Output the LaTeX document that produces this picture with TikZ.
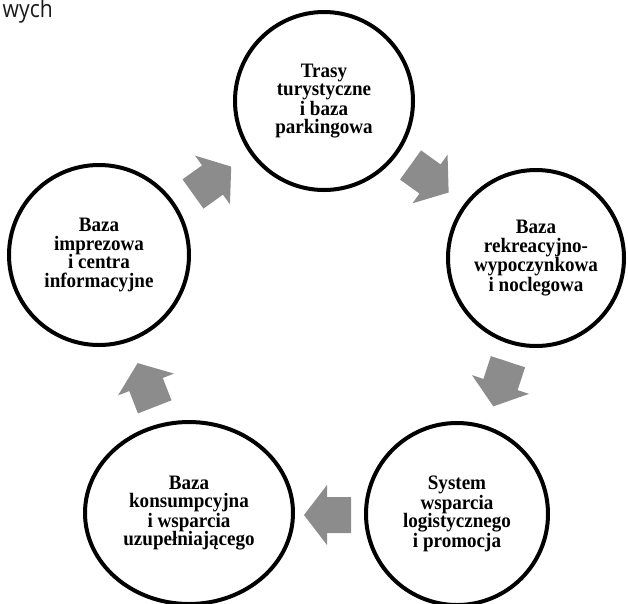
\documentclass[tikz,border=0pt]{standalone}
\usepackage{fontspec}
\setmainfont{Liberation Serif}
\newfontfamily\stagefont[FakeStretch=0.93]{Liberation Serif}
\newfontfamily\sansf[FakeStretch=0.88]{Open Sans}
\usetikzlibrary{shapes.geometric}
\definecolor{arrowgray}{RGB}{140,140,140}
\tikzset{
  stage/.style={draw=black, line width=4pt, inner sep=0pt, align=center,
    font=\stagefont\bfseries\fontsize{20.5}{18.6}\selectfont},
  roundstage/.style={stage, circle},
  ovalstage/.style={stage, ellipse},
  blockarrow/.pic={
    \fill[arrowgray] (-24,-18) -- (0,-18) -- (0,-30) -- (23,0) -- (0,30) -- (0,18) -- (-24,18) -- cycle;
  }
}
\begin{document}
\begin{tikzpicture}[x=1pt,y=-1pt]
\useasboundingbox (0,0) rectangle (628,603);
\node[anchor=base east, font=\sansf\fontsize{24}{26}\selectfont, inner sep=0pt, text=black!90] (frag) at (53,17) {wych};

\node[roundstage, minimum size=178pt] (trasy) at (324,101)
  {Trasy\\turystyczne\\i baza\\parkingowa};
\node[roundstage, minimum size=176pt] (rekreacja) at (536,258)
  {Baza\\rekreacyjno-\\wypoczynkowa\\i noclegowa};
\node[roundstage, minimum size=182pt] (system) at (457,514)
  {System\\wsparcia\\logistycznego\\i promocja};
\node[ovalstage, minimum width=208pt, minimum height=182pt] (konsumpcja) at (189,513)
  {Baza\\konsumpcyjna\\i wsparcia\\uzupełniającego};
\node[roundstage, minimum size=180pt] (imprezy) at (99,255)
  {Baza\\imprezowa\\i centra\\informacyjne};

\pic[rotate=35.6] at (212.5,180) {blockarrow};
\pic[rotate=-35.8] at (430,179) {blockarrow};
\pic[rotate=-108.2] at (500.5,384.5) {blockarrow};
\pic[rotate=180] at (327,515) {blockarrow};
\pic[rotate=111.3] at (146,384.5) {blockarrow};
\end{tikzpicture}
\end{document}
